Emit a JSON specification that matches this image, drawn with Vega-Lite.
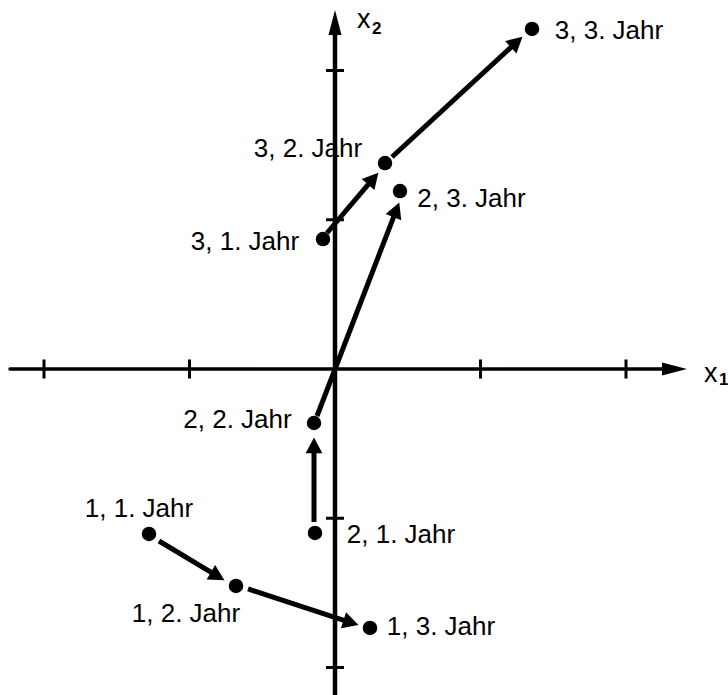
{
  "$schema": "https://vega.github.io/schema/vega-lite/v6.json",
  "width": 728,
  "height": 695,
  "padding": 0,
  "autosize": {"type": "none"},
  "background": "white",
  "config": {"view": {"stroke": null}},
  "datasets": {
    "points": [
      {"name": "1, 1. Jahr", "x": -1.2784, "y": -1.1055, "lx": -1.3471, "ly": -0.9916},
      {"name": "1, 2. Jahr", "x": -0.6804, "y": -1.4539, "lx": -1.0241, "ly": -1.6951},
      {"name": "1, 3. Jahr", "x": 0.2405, "y": -1.7353, "lx": 0.7285, "ly": -1.7822},
      {"name": "2, 1. Jahr", "x": -0.1375, "y": -1.0988, "lx": 0.4536, "ly": -1.1658},
      {"name": "2, 2. Jahr", "x": -0.1443, "y": -0.3618, "lx": -0.6701, "ly": -0.3953},
      {"name": "2, 3. Jahr", "x": 0.4467, "y": 1.1926, "lx": 0.9381, "ly": 1.0854},
      {"name": "3, 1. Jahr", "x": -0.0825, "y": 0.871, "lx": -0.6186, "ly": 0.7973},
      {"name": "3, 2. Jahr", "x": 0.3436, "y": 1.3802, "lx": -0.1856, "ly": 1.4204},
      {"name": "3, 3. Jahr", "x": 1.354, "y": 2.2781, "lx": 1.8832, "ly": 2.2111}
    ],
    "arrows": [
      {"from": "1, 1. Jahr", "to": "1, 2. Jahr", "x": -1.2096, "y": -1.1524, "x2": -0.822, "y2": -1.3796},
      {"from": "1, 2. Jahr", "to": "1, 3. Jahr", "x": -0.5979, "y": -1.474, "x2": 0.0928, "y2": -1.6945},
      {"from": "2, 1. Jahr", "to": "2, 2. Jahr", "x": -0.1443, "y": -1.0251, "x2": -0.1443, "y2": -0.5293},
      {"from": "2, 2. Jahr", "to": "2, 3. Jahr", "x": -0.1237, "y": -0.3149, "x2": 0.4151, "y2": 1.0499},
      {"from": "3, 1. Jahr", "to": "3, 2. Jahr", "x": -0.055, "y": 0.9112, "x2": 0.2509, "y2": 1.2623},
      {"from": "3, 2. Jahr", "to": "3, 3. Jahr", "x": 0.3918, "y": 1.4204, "x2": 1.2351, "y2": 2.1789}
    ],
    "axes": [
      {"name": "x1", "x": -2.2337, "y": 0, "x2": 2.3368, "y2": 0},
      {"name": "x2", "x": 0, "y": -2.184, "x2": 0, "y2": 2.325}
    ],
    "xticks": [{"v": -2}, {"v": -1}, {"v": 1}, {"v": 2}],
    "yticks": [{"v": -2}, {"v": -1}, {"v": 1}, {"v": 2}],
    "axislabels": [
      {"t": "x", "x": 2.536, "y": -0.0871, "sub": "1", "sx": 2.6392, "sy": -0.1072},
      {"t": "x", "x": 0.1512, "y": 2.2848, "sub": "2", "sx": 0.2543, "sy": 2.2446}
    ]
  },
  "layer": [
    {
      "data": {"name": "axes"},
      "transform": [{"filter": "datum.name == 'x1'"}],
      "mark": {"type": "rule", "color": "#000", "strokeWidth": 3.5, "strokeCap": "round"},
      "encoding": {
        "x": {"field": "x", "type": "quantitative", "axis": null, "scale": {"domain": [-2.30241, 2.70103], "nice": false, "zero": false}},
        "y": {"field": "y", "type": "quantitative", "axis": null, "scale": {"domain": [-2.18425, 2.47236], "nice": false, "zero": false}},
        "x2": {"field": "x2"},
        "y2": {"field": "y2"}
      }
    },
    {
      "data": {"name": "axes"},
      "transform": [{"filter": "datum.name == 'x2'"}],
      "mark": {"type": "rule", "color": "#000", "strokeWidth": 4.5, "strokeCap": "butt"},
      "encoding": {
        "x": {"field": "x", "type": "quantitative", "axis": null, "scale": {"domain": [-2.30241, 2.70103], "nice": false, "zero": false}},
        "y": {"field": "y", "type": "quantitative", "axis": null, "scale": {"domain": [-2.18425, 2.47236], "nice": false, "zero": false}},
        "x2": {"field": "x2"},
        "y2": {"field": "y2"}
      }
    },
    {
      "data": {"name": "axes"},
      "transform": [{"calculate": "atan2(datum.x2 - datum.x, datum.y2 - datum.y) * 180 / PI", "as": "ang"}],
      "mark": {"type": "point", "filled": true, "color": "#000", "opacity": 1, "shape": "M0,-1.85L1,2L-1,2Z", "size": 169},
      "encoding": {
        "x": {"field": "x2", "type": "quantitative", "axis": null, "scale": {"domain": [-2.30241, 2.70103], "nice": false, "zero": false}},
        "y": {"field": "y2", "type": "quantitative", "axis": null, "scale": {"domain": [-2.18425, 2.47236], "nice": false, "zero": false}},
        "angle": {"field": "ang", "type": "quantitative", "scale": null}
      }
    },
    {
      "data": {"name": "xticks"},
      "mark": {"type": "tick", "orient": "vertical", "color": "#000", "size": 19, "thickness": 3, "opacity": 1},
      "encoding": {
        "x": {"field": "v", "type": "quantitative", "axis": null, "scale": {"domain": [-2.30241, 2.70103], "nice": false, "zero": false}},
        "y": {"datum": 0, "type": "quantitative", "axis": null, "scale": {"domain": [-2.18425, 2.47236], "nice": false, "zero": false}}
      }
    },
    {
      "data": {"name": "yticks"},
      "mark": {"type": "tick", "orient": "horizontal", "color": "#000", "size": 18, "thickness": 3, "opacity": 1},
      "encoding": {
        "x": {"datum": 0, "type": "quantitative", "axis": null, "scale": {"domain": [-2.30241, 2.70103], "nice": false, "zero": false}},
        "y": {"field": "v", "type": "quantitative", "axis": null, "scale": {"domain": [-2.18425, 2.47236], "nice": false, "zero": false}}
      }
    },
    {
      "data": {"name": "arrows"},
      "mark": {"type": "rule", "color": "#000", "strokeWidth": 5, "strokeCap": "butt"},
      "encoding": {
        "x": {"field": "x", "type": "quantitative", "axis": null, "scale": {"domain": [-2.30241, 2.70103], "nice": false, "zero": false}},
        "y": {"field": "y", "type": "quantitative", "axis": null, "scale": {"domain": [-2.18425, 2.47236], "nice": false, "zero": false}},
        "x2": {"field": "x2"},
        "y2": {"field": "y2"}
      }
    },
    {
      "data": {"name": "arrows"},
      "transform": [{"calculate": "atan2(datum.x2 - datum.x, datum.y2 - datum.y) * 180 / PI", "as": "ang"}],
      "mark": {"type": "point", "filled": true, "color": "#000", "opacity": 1, "shape": "M0,-2L1.6,1L-1.6,1Z", "size": 110},
      "encoding": {
        "x": {"field": "x2", "type": "quantitative", "axis": null, "scale": {"domain": [-2.30241, 2.70103], "nice": false, "zero": false}},
        "y": {"field": "y2", "type": "quantitative", "axis": null, "scale": {"domain": [-2.18425, 2.47236], "nice": false, "zero": false}},
        "angle": {"field": "ang", "type": "quantitative", "scale": null}
      }
    },
    {
      "data": {"name": "points"},
      "mark": {"type": "point", "filled": true, "shape": "circle", "color": "#000", "opacity": 1, "size": 210},
      "encoding": {
        "x": {"field": "x", "type": "quantitative", "axis": null, "scale": {"domain": [-2.30241, 2.70103], "nice": false, "zero": false}},
        "y": {"field": "y", "type": "quantitative", "axis": null, "scale": {"domain": [-2.18425, 2.47236], "nice": false, "zero": false}}
      }
    },
    {
      "data": {"name": "points"},
      "mark": {"type": "text", "font": "Liberation Sans", "fontSize": 26, "color": "#000", "align": "center", "baseline": "alphabetic"},
      "encoding": {
        "x": {"field": "lx", "type": "quantitative", "axis": null, "scale": {"domain": [-2.30241, 2.70103], "nice": false, "zero": false}},
        "y": {"field": "ly", "type": "quantitative", "axis": null, "scale": {"domain": [-2.18425, 2.47236], "nice": false, "zero": false}},
        "text": {"field": "name"}
      }
    },
    {
      "data": {"name": "axislabels"},
      "mark": {"type": "text", "font": "Liberation Sans", "fontSize": 27, "color": "#000", "align": "left", "baseline": "alphabetic"},
      "encoding": {
        "x": {"field": "x", "type": "quantitative", "axis": null, "scale": {"domain": [-2.30241, 2.70103], "nice": false, "zero": false}},
        "y": {"field": "y", "type": "quantitative", "axis": null, "scale": {"domain": [-2.18425, 2.47236], "nice": false, "zero": false}},
        "text": {"field": "t"}
      }
    },
    {
      "data": {"name": "axislabels"},
      "mark": {"type": "text", "font": "Liberation Sans", "fontSize": 17, "fontWeight": "bold", "color": "#000", "align": "left", "baseline": "alphabetic"},
      "encoding": {
        "x": {"field": "sx", "type": "quantitative", "axis": null, "scale": {"domain": [-2.30241, 2.70103], "nice": false, "zero": false}},
        "y": {"field": "sy", "type": "quantitative", "axis": null, "scale": {"domain": [-2.18425, 2.47236], "nice": false, "zero": false}},
        "text": {"field": "sub"}
      }
    }
  ]
}
